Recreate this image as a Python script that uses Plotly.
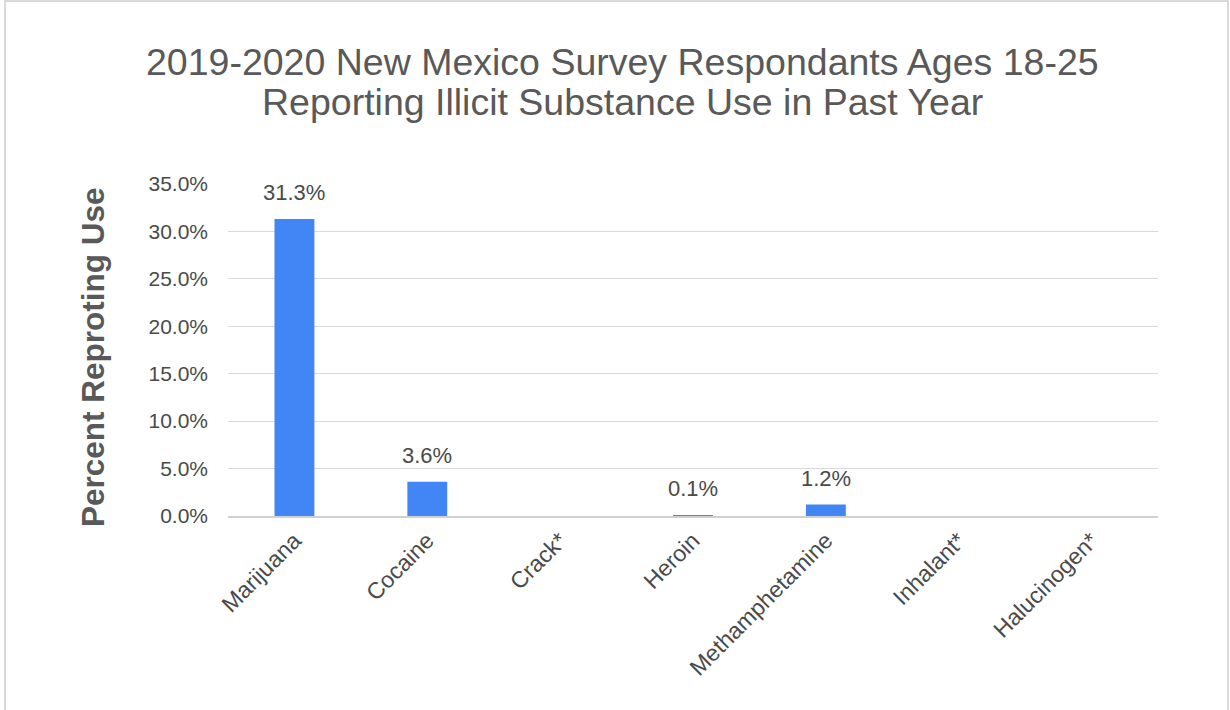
import plotly.graph_objects as go

categories = ["Marijuana", "Cocaine", "Crack*", "Heroin", "Methamphetamine", "Inhalant*", "Halucinogen*"]
values = [31.3, 3.6, None, 0.1, 1.2, None, None]
labels = ["31.3%", "3.6%", "", "0.1%", "1.2%", "", ""]
tick_vals = [0, 5, 10, 15, 20, 25, 30, 35]
tick_text = ["0.0%", "5.0%", "10.0%", "15.0%", "20.0%", "25.0%", "30.0%", "35.0%"]
title_lines = ["2019-2020 New Mexico Survey Respondants Ages 18-25",
               "Reporting Illicit Substance Use in Past Year"]
y_title = "Percent Reproting Use"

FONT = "Liberation Sans, Arial, sans-serif"
GRAY = "#4a4a4a"

W, H = 1230, 710
L, R, T, B = 228, 72, 184, 194
pw, ph = W - L - R, H - T - B


def px(x):
    return (x - L) / pw


def py(y):
    return (H - B - y) / ph


fig = go.Figure()
fig.add_trace(go.Bar(
    x=categories, y=values,
    marker=dict(color="#4285F4", line=dict(width=0)),
    hoverinfo="x+y",
))

for c, v, t in zip(categories, values, labels):
    if v is None:
        continue
    fig.add_annotation(x=c, y=v, text=t, showarrow=False, xref="x", yref="y",
                       yanchor="bottom", yshift=12,
                       font=dict(size=22, color=GRAY, family=FONT))

fig.add_shape(type="rect", xref="paper", yref="paper",
              x0=px(5), x1=px(1228), y0=py(730), y1=py(1),
              line=dict(color="#d9d9d9", width=2), fillcolor="rgba(0,0,0,0)", layer="below")

for i, (line, ycen) in enumerate(zip(title_lines, [62, 102])):
    fig.add_annotation(text=line, xref="paper", yref="paper", x=px(622), y=py(ycen),
                       xanchor="center", yanchor="middle", showarrow=False,
                       font=dict(size=37.5, color="#595959", family=FONT))

fig.add_annotation(text="<b>" + y_title + "</b>", xref="paper", yref="paper",
                   x=px(93), y=py(357), textangle=-90, xanchor="center", yanchor="middle",
                   showarrow=False, font=dict(size=31.5, color="#595959", family=FONT))

fig.update_layout(
    width=W, height=H,
    margin=dict(l=L, r=R, t=T, b=B),
    paper_bgcolor="white", plot_bgcolor="white",
    bargap=0.7,
    showlegend=False,
    font=dict(family=FONT, color=GRAY),
)
fig.update_xaxes(
    tickangle=-45, tickfont=dict(size=23, color=GRAY, family=FONT),
    showgrid=False, showline=True, linecolor="#d0d0d0", linewidth=2, ticks="",
)
fig.update_yaxes(
    range=[0, 35], tickvals=tick_vals, ticktext=tick_text,
    tickfont=dict(size=21, color=GRAY, family=FONT),
    showgrid=True, gridcolor="#d9d9d9", gridwidth=1, zeroline=False,
    showline=False, ticks="", ticklabelstandoff=19,
)

fig.write_html("out.html", config={"displayModeBar": False},
               post_script="document.body.style.margin='0';")
